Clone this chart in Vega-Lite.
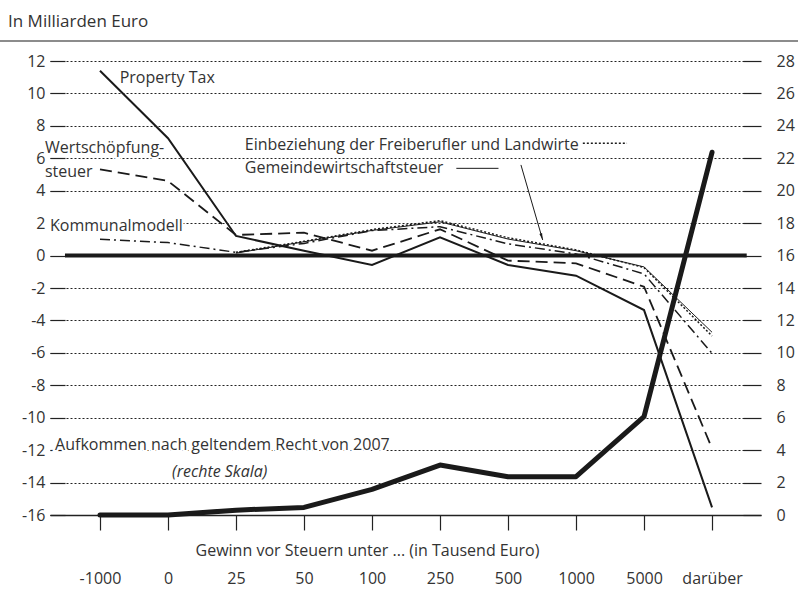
{
  "$schema": "https://vega.github.io/schema/vega-lite/v6.json",
  "width": 711,
  "height": 454,
  "autosize": {"type": "none"},
  "padding": {"left": 50, "top": 61, "right": 37, "bottom": 93},
  "background": "white",
  "config": {
    "font": "Open Sans",
    "view": {"stroke": null},
    "axis": {"labelFont": "Open Sans", "labelFontSize": 16, "labelColor": "#333333", "titleFont": "Open Sans", "titleFontSize": 16, "titleColor": "#333333", "titleFontWeight": "normal", "tickColor": "#222222", "domainColor": "#222222"}
  },
  "title": {"text": "In Milliarden Euro", "anchor": "start", "frame": "group", "dx": -42, "dy": 10, "offset": 6, "fontSize": 17, "fontWeight": "normal", "color": "#333333", "font": "Open Sans", "baseline": "alphabetic"},
  "datasets": {
    "lines": [
      {"series": "Property Tax", "gewinn": "-1000", "i": 0, "v": 11.4},
      {"series": "Property Tax", "gewinn": "0", "i": 1, "v": 7.24},
      {"series": "Property Tax", "gewinn": "25", "i": 2, "v": 1.21},
      {"series": "Property Tax", "gewinn": "50", "i": 3, "v": 0.3},
      {"series": "Property Tax", "gewinn": "100", "i": 4, "v": -0.58},
      {"series": "Property Tax", "gewinn": "250", "i": 5, "v": 1.13},
      {"series": "Property Tax", "gewinn": "500", "i": 6, "v": -0.58},
      {"series": "Property Tax", "gewinn": "1000", "i": 7, "v": -1.24},
      {"series": "Property Tax", "gewinn": "5000", "i": 8, "v": -3.36},
      {"series": "Property Tax", "gewinn": "darüber", "i": 9, "v": -15.53},
      {"series": "Wertschöpfungsteuer", "gewinn": "-1000", "i": 0, "v": 5.32},
      {"series": "Wertschöpfungsteuer", "gewinn": "0", "i": 1, "v": 4.6},
      {"series": "Wertschöpfungsteuer", "gewinn": "25", "i": 2, "v": 1.27},
      {"series": "Wertschöpfungsteuer", "gewinn": "50", "i": 3, "v": 1.41},
      {"series": "Wertschöpfungsteuer", "gewinn": "100", "i": 4, "v": 0.3},
      {"series": "Wertschöpfungsteuer", "gewinn": "250", "i": 5, "v": 1.62},
      {"series": "Wertschöpfungsteuer", "gewinn": "500", "i": 6, "v": -0.31},
      {"series": "Wertschöpfungsteuer", "gewinn": "1000", "i": 7, "v": -0.48},
      {"series": "Wertschöpfungsteuer", "gewinn": "5000", "i": 8, "v": -1.92},
      {"series": "Wertschöpfungsteuer", "gewinn": "darüber", "i": 9, "v": -11.89},
      {"series": "Kommunalmodell", "gewinn": "-1000", "i": 0, "v": 1.0},
      {"series": "Kommunalmodell", "gewinn": "0", "i": 1, "v": 0.8},
      {"series": "Kommunalmodell", "gewinn": "25", "i": 2, "v": 0.2},
      {"series": "Kommunalmodell", "gewinn": "50", "i": 3, "v": 0.75},
      {"series": "Kommunalmodell", "gewinn": "100", "i": 4, "v": 1.54},
      {"series": "Kommunalmodell", "gewinn": "250", "i": 5, "v": 1.78},
      {"series": "Kommunalmodell", "gewinn": "500", "i": 6, "v": 0.72},
      {"series": "Kommunalmodell", "gewinn": "1000", "i": 7, "v": 0.1},
      {"series": "Kommunalmodell", "gewinn": "5000", "i": 8, "v": -1.13},
      {"series": "Kommunalmodell", "gewinn": "darüber", "i": 9, "v": -6.03},
      {"series": "Gemeindewirtschaftsteuer", "gewinn": "25", "i": 2, "v": 0.15},
      {"series": "Gemeindewirtschaftsteuer", "gewinn": "50", "i": 3, "v": 0.85},
      {"series": "Gemeindewirtschaftsteuer", "gewinn": "100", "i": 4, "v": 1.55},
      {"series": "Gemeindewirtschaftsteuer", "gewinn": "250", "i": 5, "v": 2.08},
      {"series": "Gemeindewirtschaftsteuer", "gewinn": "500", "i": 6, "v": 1.02},
      {"series": "Gemeindewirtschaftsteuer", "gewinn": "1000", "i": 7, "v": 0.3},
      {"series": "Gemeindewirtschaftsteuer", "gewinn": "5000", "i": 8, "v": -0.7},
      {"series": "Gemeindewirtschaftsteuer", "gewinn": "darüber", "i": 9, "v": -4.73},
      {"series": "Einbeziehung", "gewinn": "25", "i": 2, "v": 0.2},
      {"series": "Einbeziehung", "gewinn": "50", "i": 3, "v": 0.88},
      {"series": "Einbeziehung", "gewinn": "100", "i": 4, "v": 1.6},
      {"series": "Einbeziehung", "gewinn": "250", "i": 5, "v": 2.15},
      {"series": "Einbeziehung", "gewinn": "500", "i": 6, "v": 1.1},
      {"series": "Einbeziehung", "gewinn": "1000", "i": 7, "v": 0.35},
      {"series": "Einbeziehung", "gewinn": "5000", "i": 8, "v": -0.74},
      {"series": "Einbeziehung", "gewinn": "darüber", "i": 9, "v": -4.96}
    ],
    "aufkommen": [
      {"gewinn": "-1000", "i": 0, "v": 0},
      {"gewinn": "0", "i": 1, "v": 0},
      {"gewinn": "25", "i": 2, "v": 0.3},
      {"gewinn": "50", "i": 3, "v": 0.47},
      {"gewinn": "100", "i": 4, "v": 1.58},
      {"gewinn": "250", "i": 5, "v": 3.08},
      {"gewinn": "500", "i": 6, "v": 2.36},
      {"gewinn": "1000", "i": 7, "v": 2.36},
      {"gewinn": "5000", "i": 8, "v": 6.07},
      {"gewinn": "darüber", "i": 9, "v": 22.37}
    ],
    "labels": [
      {"txt": "Property Tax", "i": 0.29, "v": 10.96, "kind": "normal"},
      {"txt": "Wertschöpfung-", "i": -0.81, "v": 6.64, "kind": "normal"},
      {"txt": "steuer", "i": -0.81, "v": 5.18, "kind": "normal"},
      {"txt": "Kommunalmodell", "i": -0.735, "v": 1.83, "kind": "normal"},
      {"txt": "Einbeziehung der Freiberufler und Landwirte", "i": 2.13, "v": 6.82, "kind": "normal"},
      {"txt": "Gemeindewirtschaftsteuer", "i": 2.13, "v": 5.38, "kind": "normal"},
      {"txt": "Aufkommen nach geltendem Recht von 2007", "i": -0.66, "v": -11.69, "kind": "normal"},
      {"txt": "(rechte Skala)", "i": 1.06, "v": -13.35, "kind": "italic"}
    ],
    "rules": [
      {"kind": "zero", "i": -0.515, "i2": 9.51, "v": 0, "v2": 0},
      {"kind": "sampleDotted", "i": 7.1, "i2": 7.75, "v": 6.93, "v2": 6.93},
      {"kind": "sampleSolid", "i": 5.24, "i2": 5.86, "v": 5.38, "v2": 5.38},
      {"kind": "arrow", "i": 6.19, "i2": 6.51, "v": 5.59, "v2": 0.96},
      {"kind": "separator", "i": -1.5, "i2": 10.3, "v": 13.24, "v2": 13.24}
    ],
    "arrowhead": [{"i": 6.51, "v": 0.96}]
  },
  "layer": [
    {
      "encoding": {
        "x": {"field": "i", "type": "quantitative", "scale": {"domain": [-0.735, 9.72], "nice": false, "zero": false},
          "axis": {"orient": "bottom", "values": [0, 1, 2, 3, 4, 5, 6, 7, 8, 9], "labelExpr": "['-1000','0','25','50','100','250','500','1000','5000','darüber'][datum.value]", "grid": false, "domain": true, "domainWidth": 1.5, "tickSize": 15, "tickWidth": 1.2, "labelPadding": 40, "labelFlush": false, "title": "Gewinn vor Steuern unter ... (in Tausend Euro)", "titleX": 317, "titleY": 35, "titleBaseline": "middle", "titleAlign": "center"}},
        "y": {"field": "v", "type": "quantitative", "scale": {"domain": [-16, 12], "nice": false, "zero": false},
          "axis": {"orient": "left", "values": [-16, -14, -12, -10, -8, -6, -4, -2, 0, 2, 4, 6, 8, 10, 12], "labelExpr": "'' + datum.value", "grid": true, "gridDash": [2, 2], "gridColor": "#222222", "gridWidth": 1, "domain": false, "tickSize": -15, "tickWidth": 1.2, "labelPadding": 20, "title": null}}
      },
      "layer": [
        {"data": {"name": "rules"}, "transform": [{"filter": "datum.kind === 'zero'"}], "mark": {"type": "rule", "color": "#1a1a1a", "strokeWidth": 4}, "encoding": {"x2": {"field": "i2"}, "y2": {"field": "v2"}}},
        {"data": {"name": "rules"}, "transform": [{"filter": "datum.kind === 'separator'"}], "mark": {"type": "rule", "color": "#666666", "strokeWidth": 1.5}, "encoding": {"x2": {"field": "i2"}, "y2": {"field": "v2"}}},
        {"data": {"name": "rules"}, "transform": [{"filter": "datum.kind === 'sampleDotted'"}], "mark": {"type": "rule", "color": "#1a1a1a", "strokeWidth": 1.5, "strokeDash": [2, 2]}, "encoding": {"x2": {"field": "i2"}, "y2": {"field": "v2"}}},
        {"data": {"name": "rules"}, "transform": [{"filter": "datum.kind === 'sampleSolid'"}], "mark": {"type": "rule", "color": "#1a1a1a", "strokeWidth": 1}, "encoding": {"x2": {"field": "i2"}, "y2": {"field": "v2"}}},
        {"data": {"name": "rules"}, "transform": [{"filter": "datum.kind === 'arrow'"}], "mark": {"type": "rule", "color": "#1a1a1a", "strokeWidth": 1}, "encoding": {"x2": {"field": "i2"}, "y2": {"field": "v2"}}},
        {"data": {"name": "arrowhead"}, "mark": {"type": "point", "shape": "M0,0L-0.35,-1.7L0.35,-1.7Z", "size": 64, "filled": true, "color": "#1a1a1a", "opacity": 1, "angle": -16.7}},
        {"data": {"name": "lines"}, "transform": [{"filter": "datum.series === 'Property Tax'"}], "mark": {"type": "line", "color": "#1a1a1a", "strokeWidth": 2}},
        {"data": {"name": "lines"}, "transform": [{"filter": "datum.series === 'Wertschöpfungsteuer'"}], "mark": {"type": "line", "color": "#1a1a1a", "strokeWidth": 1.8, "strokeDash": [12, 6]}},
        {"data": {"name": "lines"}, "transform": [{"filter": "datum.series === 'Kommunalmodell'"}], "mark": {"type": "line", "color": "#1a1a1a", "strokeWidth": 1.5, "strokeDash": [10, 4, 2, 4]}},
        {"data": {"name": "lines"}, "transform": [{"filter": "datum.series === 'Gemeindewirtschaftsteuer'"}], "mark": {"type": "line", "color": "#1a1a1a", "strokeWidth": 1}},
        {"data": {"name": "lines"}, "transform": [{"filter": "datum.series === 'Einbeziehung'"}], "mark": {"type": "line", "color": "#1a1a1a", "strokeWidth": 1.5, "strokeDash": [2, 2]}},
        {"data": {"name": "labels"}, "transform": [{"filter": "datum.kind === 'normal'"}], "mark": {"type": "text", "align": "left", "baseline": "middle", "fontSize": 16, "font": "Open Sans", "color": "white", "stroke": "white", "strokeWidth": 4}, "encoding": {"text": {"field": "txt"}}},
        {"data": {"name": "labels"}, "transform": [{"filter": "datum.kind === 'normal'"}], "mark": {"type": "text", "align": "left", "baseline": "middle", "fontSize": 16, "font": "Open Sans", "color": "#333333"}, "encoding": {"text": {"field": "txt"}}},
        {"data": {"name": "labels"}, "transform": [{"filter": "datum.kind === 'italic'"}], "mark": {"type": "text", "align": "left", "baseline": "middle", "fontSize": 16, "font": "Open Sans", "fontStyle": "italic", "color": "#333333"}, "encoding": {"text": {"field": "txt"}}}
      ]
    },
    {
      "data": {"name": "aufkommen"},
      "mark": {"type": "line", "color": "#1a1a1a", "strokeWidth": 5, "strokeCap": "round", "strokeJoin": "round"},
      "encoding": {
        "x": {"field": "i", "type": "quantitative"},
        "y": {"field": "v", "type": "quantitative", "scale": {"domain": [0, 28], "nice": false, "zero": false},
          "axis": {"orient": "right", "values": [0, 2, 4, 6, 8, 10, 12, 14, 16, 18, 20, 22, 24, 26, 28], "grid": false, "domain": false, "tickSize": -18, "tickWidth": 1.2, "labelPadding": 33, "title": null}}
      }
    }
  ],
  "resolve": {"scale": {"y": "independent"}, "axis": {"y": "independent"}}
}
